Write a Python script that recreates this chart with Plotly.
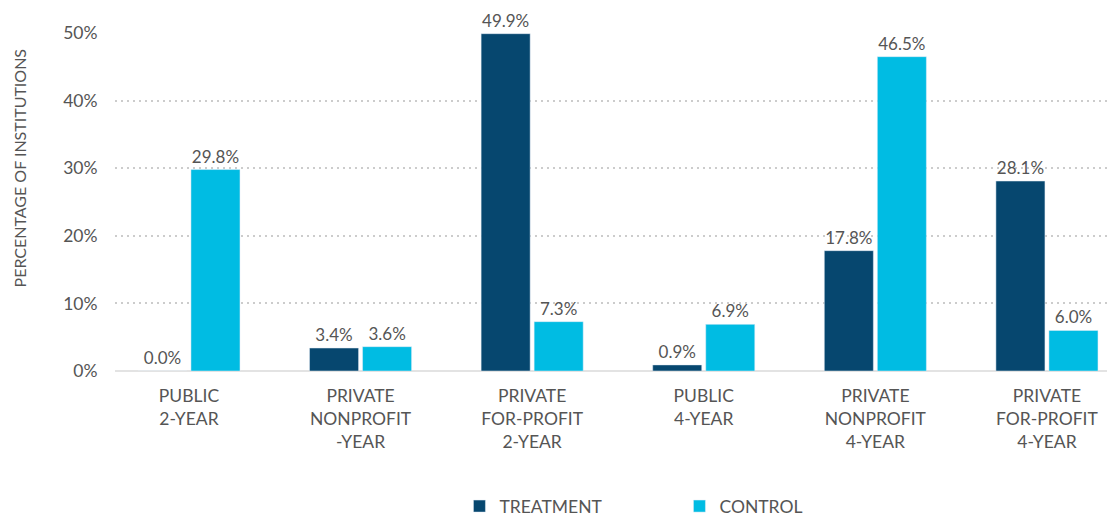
import plotly.graph_objects as go

# Institution sectors (x categories)
categories = [
    "PUBLIC<br>2-YEAR",
    "PRIVATE<br>NONPROFIT<br>-YEAR",
    "PRIVATE<br>FOR-PROFIT<br>2-YEAR",
    "PUBLIC<br>4-YEAR",
    "PRIVATE<br>NONPROFIT<br>4-YEAR",
    "PRIVATE<br>FOR-PROFIT<br>4-YEAR",
]

# Percentage of institutions in each group
treatment = [0.0, 3.4, 49.9, 0.9, 17.8, 28.1]
control = [29.8, 3.6, 7.3, 6.9, 46.5, 6.0]

y_ticks = [0, 10, 20, 30, 40, 50]
y_tick_labels = ["0%", "10%", "20%", "30%", "40%", "50%"]

TEXT = "#555555"
FONT = "Lato"

fig = go.Figure()
fig.add_trace(go.Bar(
    name="TREATMENT", x=categories, y=treatment,
    marker_color="#06476F",
    texttemplate="%{y:.1f}%", textposition="outside",
    textfont=dict(color=TEXT, size=17, family=FONT),
    cliponaxis=False,
))
fig.add_trace(go.Bar(
    name="CONTROL", x=categories, y=control,
    marker_color="#00BCE3",
    texttemplate="%{y:.1f}%", textposition="outside",
    textfont=dict(color=TEXT, size=17, family=FONT),
    cliponaxis=False,
))

fig.update_layout(
    width=1107, height=521,
    margin=dict(l=115, r=0, t=33, b=150, autoexpand=False),
    plot_bgcolor="white", paper_bgcolor="white",
    font=dict(family=FONT, color=TEXT, size=17),
    barmode="group", bargap=0.382, bargroupgap=0.075,
    showlegend=True,
    legend=dict(
        orientation="h", x=0.569, xanchor="center",
        yref="paper", y=-0.4, yanchor="middle",
        font=dict(size=17.5, color=TEXT, family=FONT),
        entrywidth=175, entrywidthmode="pixels",
        traceorder="normal",
    ),
)

fig.update_xaxes(
    type="category", range=[-0.431, 5.35],
    showgrid=False, showline=False,
    ticks="outside", ticklen=9, tickcolor="rgba(0,0,0,0)",
    tickfont=dict(size=17.5, color=TEXT, family=FONT),
)
fig.update_yaxes(
    range=[0, 50], tickvals=y_ticks, ticktext=y_tick_labels,
    showgrid=True, gridcolor="#cccccc", griddash="2px,4px", gridwidth=1.5,
    zeroline=True, zerolinecolor="#e3e3e3", zerolinewidth=2,
    showline=False, ticks="outside", ticklen=13, tickcolor="rgba(0,0,0,0)",
    tickfont=dict(size=17.5, color=TEXT, family=FONT),
)

fig.add_annotation(
    text="PERCENTAGE OF INSTITUTIONS",
    xref="paper", yref="paper", x=-0.0965, y=0.6,
    xanchor="center", yanchor="middle", textangle=-90, showarrow=False,
    font=dict(size=16, color=TEXT, family=FONT),
)

fig.write_html("out.html")
